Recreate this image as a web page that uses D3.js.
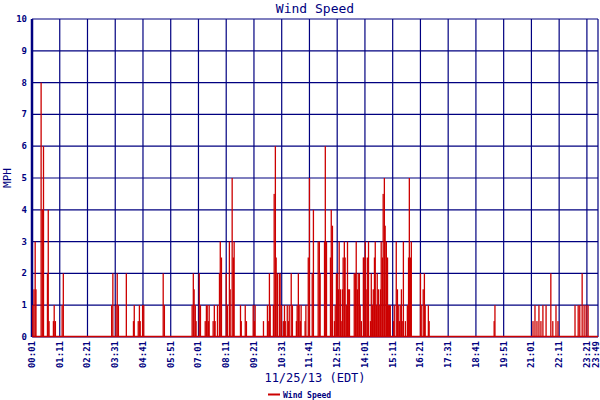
<!DOCTYPE html>
<html><head><meta charset="utf-8">
<script src="https://d3js.org/d3.v7.min.js"></script>
<style>body{margin:0;background:#fff}</style></head>
<body><svg id="c" width="600" height="400"></svg>
<script>
const title = "Wind Speed";
const xTitle = "11/25/13 (EDT)";
const yTitle = "MPH";
const seriesName = "Wind Speed";
const tickLabels = ["00:01","01:11","02:21","03:31","04:41","05:51","07:01","08:11","09:21","10:31","11:41","12:51","14:01","15:11","16:21","17:31","18:41","19:51","21:01","22:11","23:21","23:49"];
const yTicks = [0,1,2,3,4,5,6,7,8,9,10];
// minutes since midnight of non-zero samples
const times = [3,6,9,11,24,27,30,40,42,44,55,57,60,77,80,202,205,213,216,219,239,257,259,269,272,274,280,283,332,335,
405,408,410,413,415,423,426,438,441,443,446,448,458,461,463,469,474,476,479,491,494,499,501,506,509,511,527,529,539,542,559,562,564,585,
595,597,600,602,610,612,615,617,620,625,627,630,635,638,640,645,648,650,655,658,668,670,673,675,678,680,690,692,698,701,708,711,723,726,728,
739,741,744,754,756,759,764,766,769,771,774,776,779,781,784,786,789,791,794,797,799,802,814,817,819,822,824,827,829,832,837,839,842,844,847,850,
855,857,860,862,865,867,870,872,875,877,880,882,885,887,890,892,895,898,900,903,905,913,915,920,923,925,928,930,933,935,938,943,948,951,953,956,958,
981,983,988,991,993,1001,1003,1167,1169,1265,1270,1275,1280,1285,1290,1298,1310,1315,1323,1328,1371,1379,1383,1389,1394,1399,1404];
const speeds = [1,1.5,3,1.5,8,4,6,2,4,0.5,0.5,1,0.5,1,2,1,2,1,2,1,2,0.5,1,0.5,1,0.5,1,1,2,1,
1,2,1.5,1,0.5,2,1,0.5,1,1,0.5,1,0.5,1,0.5,1,2,3,2.5,2,1,3,1.5,5,2.5,3,1,0.5,1,0.5,1,0.5,1,0.5,
1,0.5,2,1,1,4.5,6,2.5,2,2,2,1,0.5,1,0.5,1,0.5,1,2,1,0.5,1,2,1,0.5,1,0.5,1,2.5,5,2,4,3,3,2,
3,6,3,2.5,4,3.5,0.5,1,2,2,1.5,3,1.5,0.5,1.5,2.5,3,2.5,1,3,1.5,1.5,2,2,3,1.5,2,2,1,0.5,2.5,2.5,3,1.5,2.5,3,
0.5,2,1,1.5,2.5,3,1,2,1.5,1,1.5,3,2.5,4.5,5,3.5,3,2.5,1,1,1,0.5,1,3,1.5,1,0.5,1,1.5,0.5,3,0.5,1,2.5,5,2.5,3,
2,1,1.5,2,1,1,0.5,0.5,1,0.5,1,0.5,1,0.5,1,1,2,0.5,1,0.5,1,1,1,2,1,1,1];

const svg = d3.select("#c");
const navy = "#000080", red = "#cc0000";
const font = "'DejaVu Sans Mono', monospace";
const L = 32, R = 598, T = 19, B = 337;
const parse = s => { const [h,m] = s.split(":").map(Number); return h*60+m; };
const x = d3.scaleLinear().domain([parse(tickLabels[0]), parse(tickLabels[tickLabels.length-1])]).range([L, R]);
const y = d3.scaleLinear().domain([0,10]).range([B, T]);

const g = svg.append("g");
g.selectAll(".hg").data(yTicks).join("line").attr("x1",L).attr("x2",R).attr("y1",d=>y(d)).attr("y2",d=>y(d)).attr("stroke",navy).attr("stroke-width",1.2);
g.selectAll(".vg").data(tickLabels).join("line").attr("x1",d=>x(parse(d))).attr("x2",d=>x(parse(d))).attr("y1",T).attr("y2",B).attr("stroke",navy).attr("stroke-width",1.2);
g.append("line").attr("x1",L).attr("x2",L).attr("y1",T).attr("y2",B).attr("stroke",navy).attr("stroke-width",2.5);

g.append("line").attr("x1",x.range()[0]+1).attr("x2",R).attr("y1",y(0)-0.5).attr("y2",y(0)-0.5).attr("stroke",red).attr("stroke-width",1.5);
const data = times.map((t,i)=>({t, v:speeds[i]}));
g.selectAll(".bar").data(data).join("rect")
  .attr("x",d=>x(d.t)-0.65).attr("width",1.3)
  .attr("y",d=>y(d.v)).attr("height",d=>y(0)-y(d.v)).attr("fill",red);

svg.selectAll(".yl").data(yTicks).join("text").attr("x",27).attr("y",d=>y(d)+3).attr("text-anchor","end")
  .attr("font-family",font).attr("font-size",9).attr("font-weight","bold").attr("fill",navy).text(d=>d);
svg.selectAll(".xl").data(tickLabels).join("text")
  .attr("transform",(d,i)=>`translate(${Math.min(x(parse(d))+3, 599)},${B+4}) rotate(-90)`).attr("text-anchor","end")
  .attr("font-family",font).attr("font-size",9).attr("font-weight","bold").attr("fill",navy).text(d=>d);

svg.append("text").attr("x",315).attr("y",13).attr("text-anchor","middle").attr("font-family",font).attr("font-size",13).attr("fill",navy).text(title);
svg.append("text").attr("x",315).attr("y",382).attr("text-anchor","middle").attr("font-family",font).attr("font-size",12).attr("fill",navy).text(xTitle);
svg.append("text").attr("transform","translate(11,178) rotate(-90)").attr("text-anchor","middle").attr("font-family",font).attr("font-size",11).attr("fill",navy).text(yTitle);
svg.append("line").attr("x1",268).attr("x2",280).attr("y1",394.5).attr("y2",394.5).attr("stroke",red).attr("stroke-width",2);
svg.append("text").attr("x",283).attr("y",398).attr("font-family",font).attr("font-size",8).attr("font-weight","bold").attr("fill",navy).text(seriesName);
</script></body></html>
